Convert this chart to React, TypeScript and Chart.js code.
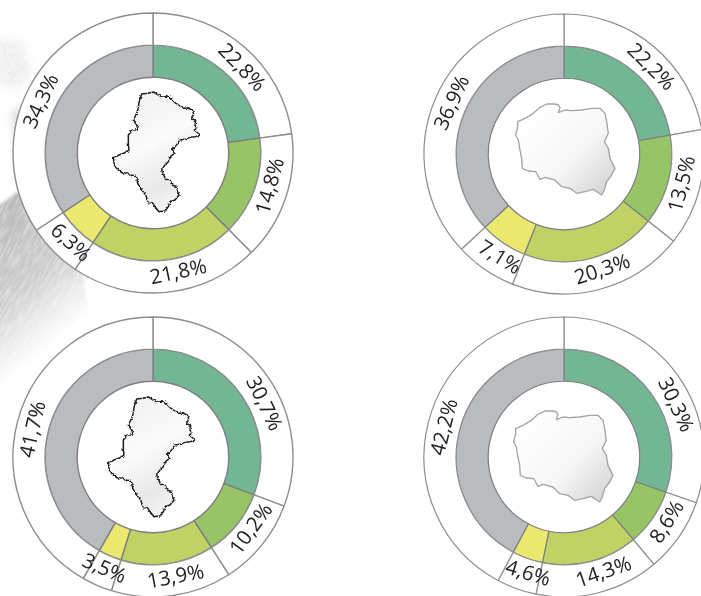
import React, { useEffect, useRef } from "react";
import { Chart, registerables } from "chart.js";

Chart.register(...registerables);

const categories = ["Kategoria 1", "Kategoria 2", "Kategoria 3", "Kategoria 4", "Kategoria 5"];
const silesiaA = [22.8, 14.8, 21.8, 6.3, 34.3];
const polandA = [22.2, 13.5, 20.3, 7.1, 36.9];
const silesiaB = [30.7, 10.2, 13.9, 3.5, 41.7];
const polandB = [30.3, 8.6, 14.3, 4.6, 42.2];
const sliceColors = ["#73b693", "#97c566", "#c1d264", "#eae86e", "#b9bbbf"];

// label placement along the outer ring: degrees away from the slice middle
const shiftsSilesiaA = [5, -3, -6.6, -2.6, -3.4];
const shiftsPolandA = [5, 0, -3.4, -2.5, 1];
const shiftsSilesiaB = [9, -2.7, -3, 0, -2];
const shiftsPolandB = [10.4, -2.4, -4.8, -2.6, 0];

const SILESIA =
  "M140 42L160 40L175 36L190 45L205 52L218 48L228 55L240 68L255 78L265 85L280 85L292 90L296 102L290 115L302 122L300 135L306 145L298 150L316 165L300 170L285 172L270 178L255 180L245 195L232 208L240 220L228 228L220 245L210 255L200 270L205 282L212 298L225 300L232 315L245 320L248 335L252 345L240 360L225 365L220 380L212 392L192 395L180 380L172 368L160 368L152 345L140 330L128 310L125 290L108 285L95 278L85 282L65 265L58 255L55 232L72 225L90 218L102 210L100 190L100 165L112 150L130 150L125 135L115 120L125 100L130 85L132 65Z";
const POLAND =
  "M38 95L60 85L85 70L105 52L125 42L150 42L160 45L165 52L160 68L180 60L200 62L230 60L260 55L285 55L300 70L305 95L310 130L298 155L310 175L315 205L330 235L320 255L305 275L298 300L290 315L265 298L240 305L215 310L195 295L170 290L150 270L120 262L105 268L92 245L70 243L52 235L50 205L44 175L40 150L32 135L38 110Z";

const ringLabels = {
  id: "ringLabels",
  afterDatasetsDraw(chart: any, _args: any, opts: any) {
    const { ctx } = chart;
    const arcs = chart.getDatasetMeta(0).data;
    const values = chart.data.datasets[0].data as number[];
    ctx.save();
    ctx.font = '20.5px "Open Sans"';
    ctx.fillStyle = "#222222";
    ctx.textAlign = "center";
    ctx.textBaseline = "middle";
    arcs.forEach((arc: any, i: number) => {
      const mid = (arc.startAngle + arc.endAngle) / 2 + (opts.shifts[i] * Math.PI) / 180;
      const r = opts.radius;
      const x = arc.x + Math.cos(mid) * r;
      const y = arc.y + Math.sin(mid) * r;
      const fromTop = mid + Math.PI / 2;
      const flip = fromTop > Math.PI / 2 && fromTop < (3 * Math.PI) / 2;
      ctx.save();
      ctx.translate(x, y);
      ctx.rotate(flip ? fromTop - Math.PI : fromTop);
      ctx.fillText(values[i].toFixed(1).replace(".", ",") + "%", 0, 0);
      ctx.restore();
    });
    ctx.restore();
  },
};

function Ring({ values, shifts, left, top, lineWidth }: { values: number[]; shifts: number[]; left: number; top: number; lineWidth: number }) {
  const ref = useRef<HTMLCanvasElement>(null);
  useEffect(() => {
    const chart = new Chart(ref.current as HTMLCanvasElement, {
      type: "doughnut",
      data: {
        labels: categories,
        datasets: [
          { data: values, backgroundColor: "#ffffff", borderColor: "#8c8e8e", borderWidth: lineWidth },
          { data: values, backgroundColor: sliceColors, borderColor: "#7d7f80", borderWidth: lineWidth },
        ],
      },
      options: {
        responsive: false,
        animation: false,
        radius: 140,
        cutout: "54.1%",
        layout: { padding: 0 },
        plugins: {
          legend: { display: false },
          tooltip: { enabled: false },
          ringLabels: { shifts, radius: 122.5 },
        },
      } as any,
      plugins: [ringLabels],
    });
    return () => chart.destroy();
  }, []);
  return (
    <canvas
      ref={ref}
      width={300}
      height={300}
      style={{ position: "absolute", left, top, width: 300, height: 300, display: "block" }}
    />
  );
}

function Backdrop() {
  return (
    <svg width={701} height={596} style={{ position: "absolute", left: 0, top: 0 }}>
      <defs>
        <linearGradient id="fade" gradientUnits="userSpaceOnUse" x1="0" y1="215" x2="85" y2="320">
          <stop offset="0" stopColor="#a8a8a8" stopOpacity="0.8" />
          <stop offset="0.55" stopColor="#b4b4b4" stopOpacity="0.65" />
          <stop offset="1" stopColor="#c8c8c8" stopOpacity="0" />
        </linearGradient>
        <filter id="grain" x="-20%" y="-20%" width="140%" height="140%">
          <feGaussianBlur in="SourceGraphic" stdDeviation="1.5" result="soft" />
          <feTurbulence type="fractalNoise" baseFrequency="0.5 0.06" numOctaves="3" seed="4" result="noise" />
          <feColorMatrix in="noise" type="matrix" values="0 0 0 0 0  0 0 0 0 0  0 0 0 0 0  1.1 0 0 0 0.35" result="mask" />
          <feComposite in="soft" in2="mask" operator="in" />
        </filter>
        <filter id="grainSoft" x="-30%" y="-30%" width="160%" height="160%">
          <feGaussianBlur in="SourceGraphic" stdDeviation="5" result="soft" />
          <feTurbulence type="fractalNoise" baseFrequency="0.3" numOctaves="3" seed="9" result="noise" />
          <feColorMatrix in="noise" type="matrix" values="0 0 0 0 0  0 0 0 0 0  0 0 0 0 0  1.2 0 0 0 0.2" result="mask" />
          <feComposite in="soft" in2="mask" operator="in" />
        </filter>
        <filter id="rough" x="-10%" y="-10%" width="120%" height="120%">
          <feTurbulence type="fractalNoise" baseFrequency="0.14" numOctaves="2" seed="3" result="n" />
          <feDisplacementMap in="SourceGraphic" in2="n" scale="9" xChannelSelector="R" yChannelSelector="G" />
        </filter>
        <filter id="roughSoft" x="-10%" y="-10%" width="120%" height="120%">
          <feTurbulence type="fractalNoise" baseFrequency="0.12" numOctaves="2" seed="6" result="n" />
          <feDisplacementMap in="SourceGraphic" in2="n" scale="4" xChannelSelector="R" yChannelSelector="G" />
        </filter>
        <linearGradient id="silesiaFill" x1="0.2" y1="0" x2="0.6" y2="1">
          <stop offset="0" stopColor="#f0f0f0" />
          <stop offset="0.45" stopColor="#fbfbfb" />
          <stop offset="0.8" stopColor="#e8e8e8" />
          <stop offset="1" stopColor="#f6f6f6" />
        </linearGradient>
        <linearGradient id="polandFill" x1="0.1" y1="0.1" x2="0.95" y2="0.85">
          <stop offset="0" stopColor="#ffffff" />
          <stop offset="0.6" stopColor="#f7f7f7" />
          <stop offset="1" stopColor="#d8d8d8" />
        </linearGradient>
      </defs>
      <g transform="rotate(28 0 300)" filter="url(#grain)">
        <path transform="rotate(-28 0 300)" d="M-10 212L17 192L45 205L80 228L85 290L90 320L60 350L40 395L15 425L-10 400Z" fill="url(#fade)" />
      </g>
      <g filter="url(#grainSoft)">
        <path d="M-5 38L22 42L32 72L18 90L-5 82Z" fill="#c4c4c4" fillOpacity="0.3" />
        <path d="M12 112L22 105L24 142L18 150Z" fill="#999999" fillOpacity="0.5" />
      </g>
    </svg>
  );
}

function MapShape({ d, left, top, w, h, fill, stroke, sw, rough }: any) {
  return (
    <svg
      width={w}
      height={h}
      viewBox={`0 0 ${w * 3} ${h * 3}`}
      style={{ position: "absolute", left, top, overflow: "visible" }}
    >
      <path d={d} fill={fill} stroke={stroke} strokeWidth={sw} strokeLinejoin="round" filter={rough} />
    </svg>
  );
}

export default function App() {
  return (
    <div style={{ position: "absolute", left: 0, top: 0, width: 701, height: 596, overflow: "hidden", background: "#fff" }}>
      <Backdrop />
      <Ring values={silesiaA} shifts={shiftsSilesiaA} left={3} top={3} lineWidth={1.4} />
      <Ring values={polandA} shifts={shiftsPolandA} left={414} top={4} lineWidth={1.2} />
      <Ring values={silesiaB} shifts={shiftsSilesiaB} left={3} top={307} lineWidth={1.4} />
      <Ring values={polandB} shifts={shiftsPolandB} left={414} top={307} lineWidth={1.2} />
      <MapShape d={SILESIA} left={95} top={80} w={120} h={140} fill="url(#silesiaFill)" stroke="#1c1c1c" sw={4.5} rough="url(#rough)" />
      <MapShape d={SILESIA} left={90} top={385} w={120} h={140} fill="url(#silesiaFill)" stroke="#1c1c1c" sw={4.5} rough="url(#rough)" />
      <MapShape d={POLAND} left={505} top={90} w={120} h={110} fill="url(#polandFill)" stroke="#a4a4a4" sw={4} rough="url(#roughSoft)" />
      <MapShape d={POLAND} left={503} top={397} w={120} h={110} fill="url(#polandFill)" stroke="#a4a4a4" sw={4} rough="url(#roughSoft)" />
    </div>
  );
}
